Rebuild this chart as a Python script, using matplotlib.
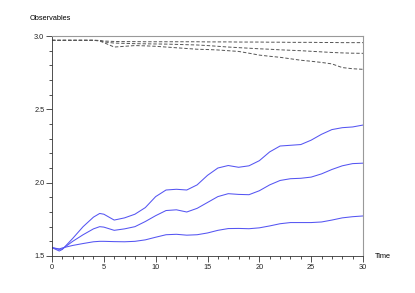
import matplotlib
matplotlib.use("Agg")
import matplotlib.pyplot as plt
from matplotlib.ticker import MultipleLocator, FormatStrFormatter

plt.rcParams['font.family'] = ['Liberation Sans', 'DejaVu Sans']

# time samples
time = [0, 0.7, 1, 2, 3, 4, 4.6, 5, 6, 7, 8, 9, 10, 11, 12, 13, 14, 15,
        16, 17, 18, 19, 20, 21, 22, 23, 24, 25, 26, 27, 28, 29, 30]

# blue observables
obs_high = [1.557, 1.534, 1.545, 1.62, 1.70, 1.765, 1.79, 1.785, 1.745, 1.76,
            1.785, 1.83, 1.905, 1.95, 1.955, 1.95, 1.985, 2.05, 2.10, 2.117,
            2.105, 2.115, 2.15, 2.21, 2.25, 2.255, 2.26, 2.29, 2.33, 2.362,
            2.375, 2.38, 2.393]
obs_mid = [1.557, 1.545, 1.548, 1.60, 1.645, 1.685, 1.70, 1.697, 1.675, 1.685,
           1.70, 1.735, 1.775, 1.81, 1.815, 1.80, 1.825, 1.865, 1.905, 1.925,
           1.92, 1.918, 1.945, 1.985, 2.015, 2.027, 2.03, 2.038, 2.06, 2.09,
           2.115, 2.13, 2.133]
obs_low = [1.557, 1.548, 1.555, 1.572, 1.585, 1.597, 1.60, 1.60, 1.598, 1.597,
           1.60, 1.61, 1.628, 1.645, 1.648, 1.642, 1.645, 1.657, 1.675, 1.687,
           1.688, 1.686, 1.692, 1.705, 1.72, 1.728, 1.728, 1.728, 1.732, 1.745,
           1.76, 1.768, 1.773]

# dashed observables near 3
dash_top = [2.971, 2.971, 2.971, 2.971, 2.971, 2.971, 2.970, 2.966, 2.963, 2.962,
            2.962, 2.961, 2.961, 2.961, 2.961, 2.961, 2.961, 2.960, 2.960, 2.960,
            2.959, 2.959, 2.959, 2.958, 2.958, 2.957, 2.957, 2.957, 2.956, 2.956,
            2.955, 2.955, 2.955]
dash_mid = [2.971, 2.971, 2.971, 2.971, 2.971, 2.971, 2.969, 2.960, 2.952, 2.950,
            2.948, 2.947, 2.946, 2.945, 2.943, 2.941, 2.939, 2.935, 2.930, 2.925,
            2.921, 2.917, 2.913, 2.910, 2.906, 2.903, 2.900, 2.896, 2.892, 2.888,
            2.885, 2.883, 2.882]
dash_low = [2.971, 2.971, 2.971, 2.971, 2.971, 2.971, 2.966, 2.955, 2.925, 2.930,
            2.935, 2.933, 2.930, 2.925, 2.920, 2.915, 2.910, 2.908, 2.905, 2.900,
            2.895, 2.883, 2.870, 2.862, 2.855, 2.845, 2.835, 2.828, 2.820, 2.810,
            2.785, 2.777, 2.773]

fig = plt.figure(figsize=(4.15, 2.93), dpi=100)
ax = fig.add_axes([0.1253, 0.1263, 0.7494, 0.7507])

blue = '#5555f2'
for series in [obs_high, obs_mid, obs_low]:
    ax.plot(time, series, color=blue, lw=0.75)
for series in [dash_top, dash_mid, dash_low]:
    ax.plot(time, series, color='#555555', lw=0.7, ls=(0, (3.5, 2)))

ax.set_xlim(0, 30)
ax.set_ylim(1.5, 3.0)
ax.xaxis.set_major_locator(MultipleLocator(5))
ax.xaxis.set_minor_locator(MultipleLocator(1))
ax.yaxis.set_major_locator(MultipleLocator(0.5))
ax.yaxis.set_minor_locator(MultipleLocator(0.1))
ax.yaxis.set_major_formatter(FormatStrFormatter('%.1f'))

ax.tick_params(which='major', length=4, width=0.6, labelsize=5.3, pad=1.5,
               color='#333333', labelcolor='#222222')
ax.tick_params(which='minor', length=2, width=0.6, color='#333333')
for side in ['left', 'bottom']:
    ax.spines[side].set_linewidth(0.6)
    ax.spines[side].set_color('#333333')
for side in ['top', 'right']:
    ax.spines[side].set_color('#999999')
    ax.spines[side].set_linewidth(0.8)

fig.text(30 / 415, 1 - 18 / 293, 'Observables', fontsize=5.3, va='center', ha='left')
fig.text(375 / 415, 1 - 256 / 293, 'Time', fontsize=5.3, va='center', ha='left')

plt.savefig('out.png', dpi=100)
